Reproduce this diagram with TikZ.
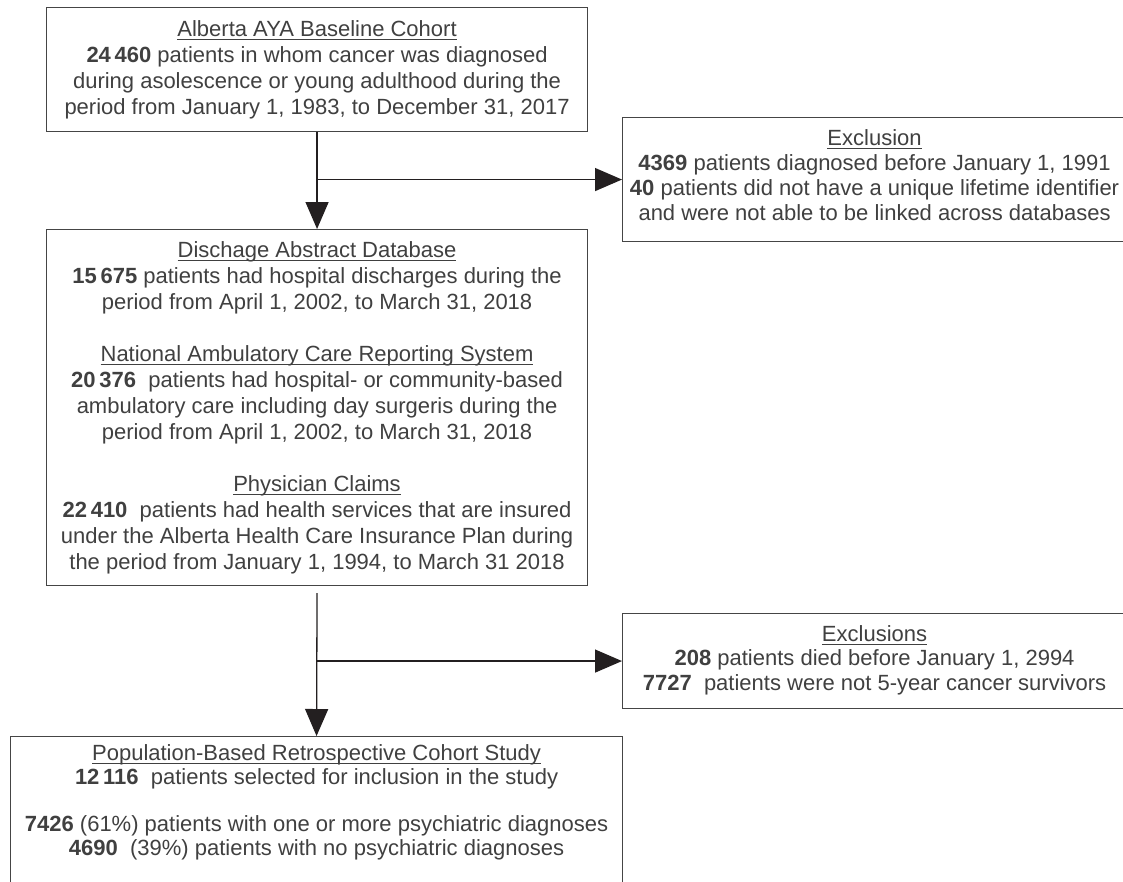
\documentclass[tikz,border=0pt]{standalone}
\usepackage{fontspec}
\setmainfont{Liberation Sans}
\usetikzlibrary{arrows.meta,calc}
\definecolor{txt}{HTML}{404040}
\definecolor{edge}{HTML}{454545}
\definecolor{arr}{HTML}{231F20}
\newcommand\hdr[1]{\setbox0\hbox{#1}\rlap{\vrule height -2.6pt depth 4.2pt width \wd0}\box0}
\tikzset{
  box/.style={draw=edge, line width=1.1pt, inner sep=0pt, anchor=north west,
    align=center, text=txt, font=\fontsize{22}{26}\selectfont},
  txtnode/.style={inner sep=0pt, align=center, text=txt, anchor=north},
  flow/.style={draw=arr, line width=1.3pt, -{Triangle[length=27pt,width=23pt]}}
}
\begin{document}
\begin{tikzpicture}[x=1pt,y=-1pt]
\useasboundingbox (0,0) rectangle (1123,881);
\clip (0,0) rectangle (1123,881);
\fill[white] (0,0) rectangle (1123,881);

\node[box, minimum width=541pt, minimum height=124pt] (top) at (46,7)
 {\hdr{Alberta AYA Baseline Cohort}\\
  \textbf{24\,460} patients in whom cancer was diagnosed\\
  during asolescence or young adulthood during the\\
  period from January 1, 1983, to December 31, 2017};

\node[box, minimum width=514pt, minimum height=124pt] (excl1) at (622,117) {};
\node[txtnode, font=\fontsize{22}{25}\selectfont] (excl1text) at ($(excl1.north)+(-5,12)$)
 {\hdr{Exclusion}\\
  \textbf{4369} patients diagnosed before January 1, 1991\\
  \textbf{40} patients did not have a unique lifetime identifier\\
  and were not able to be linked across databases};

\node[box, minimum width=541pt, minimum height=356pt] (db) at (46,229)
 {\hdr{Dischage Abstract Database}\\
  \textbf{15\,675} patients had hospital discharges during the\\
  period from April 1, 2002, to March 31, 2018\\[26pt]
  \hdr{National Ambulatory Care Reporting System}\\
  \textbf{20\,376}\ \ patients had hospital- or community-based\\
  ambulatory care including day surgeris during the\\
  period from April 1, 2002, to March 31, 2018\\[26pt]
  \hdr{Physician Claims}\\
  \textbf{22\,410}\ \ patients had health services that are insured\\
  under the Alberta Health Care Insurance Plan during\\
  the period from January 1, 1994, to March 31 2018};

\node[box, minimum width=514pt, minimum height=95pt] (excl2) at (622,613) {};
\node[txtnode, font=\fontsize{22}{24.5}\selectfont] (excl2text) at ($(excl2.north)+(-5,12)$)
 {\hdr{Exclusions}\\
  \textbf{208} patients died before January 1, 2994\\
  \textbf{7727}\ \ patients were not 5-year cancer survivors};

\node[box, minimum width=612pt, minimum height=200pt] (study) at (10,736) {};
\node[txtnode, font=\fontsize{22}{24}\selectfont] (studytext) at ($(study.north)+(0,8)$)
 {\hdr{Population-Based Retrospective Cohort Study}\\
  \textbf{12\,116}\ \ patients selected for inclusion in the study\\[23pt]
  \textbf{7426} (61\%) patients with one or more psychiatric diagnoses\\
  \textbf{4690}\ \ (39\%) patients with no psychiatric diagnoses};

\draw[flow] (top.south) -- (db.north);
\draw[flow] (top.south |- excl1.west) -- (excl1.west);

\coordinate (gap) at ($(db.south)+(0,7)$);
\draw[flow] (gap) -- (study.north);
\draw[flow] (gap |- excl2.west) -- (excl2.west);
\end{tikzpicture}
\end{document}
